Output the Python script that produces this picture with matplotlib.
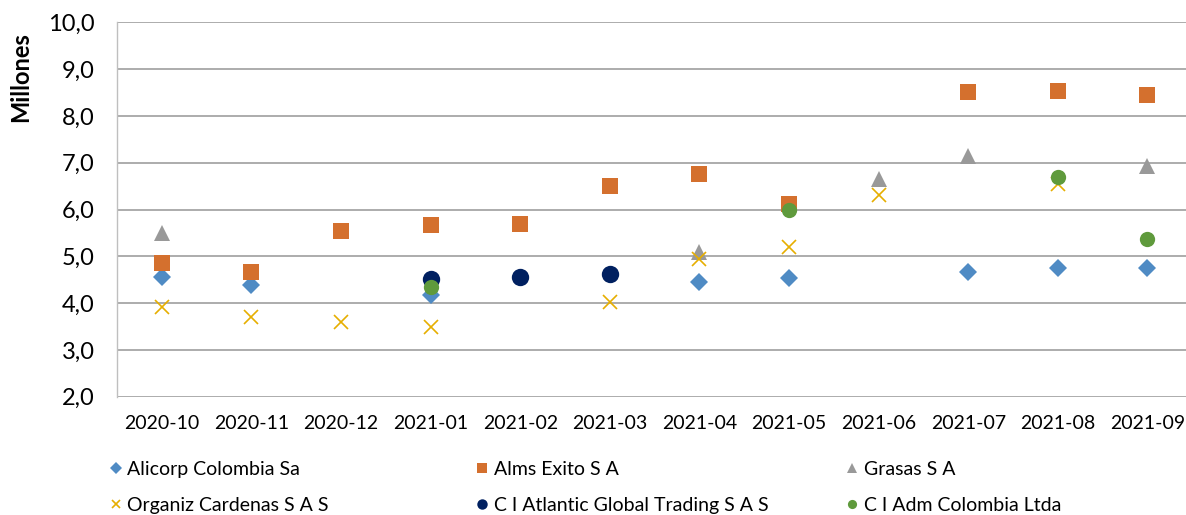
import numpy as np
import matplotlib
matplotlib.use("Agg")
import matplotlib.pyplot as plt

plt.rcParams['font.family'] = ['Lato', 'DejaVu Sans']

meses = ['2020-10', '2020-11', '2020-12', '2021-01', '2021-02', '2021-03',
         '2021-04', '2021-05', '2021-06', '2021-07', '2021-08', '2021-09']

nan = np.nan
alicorp = [4.56, 4.39, nan, 4.17, nan, nan, 4.46, 4.53, nan, 4.67, 4.74, 4.76]
exito = [4.85, 4.67, 5.55, 5.67, 5.70, 6.51, 6.75, 6.12, nan, 8.52, 8.54, 8.44]
grasas = [5.49, nan, nan, nan, nan, nan, 5.10, nan, 6.65, 7.14, nan, 6.94]
cardenas = [3.92, 3.71, 3.60, 3.50, nan, 4.02, 4.94, 5.20, 6.30, nan, 6.55, nan]
atlantic = [nan, nan, nan, 4.51, 4.56, 4.63, nan, nan, nan, nan, nan, nan]
adm = [nan, nan, nan, 4.34, nan, nan, nan, 6.00, nan, nan, 6.69, 5.38]

series = [
    ('Alicorp Colombia Sa', alicorp, 'D', '#4F8BC4', 9.5),
    ('Alms Exito S A', exito, 's', '#D4702E', 11),
    ('Grasas S A', grasas, '^', '#999999', 11.5),
    ('Organiz Cardenas S A S', cardenas, 'x', '#E6AE00', 10),
    ('C I Atlantic Global Trading S A S', atlantic, 'o', '#002060', 12.5),
    ('C I Adm Colombia Ltda', adm, 'o', '#5F9A3C', 11),
]

fig = plt.figure(figsize=(11.86, 5.15), dpi=100)
ax = fig.add_axes([117 / 1186, 1 - 396.7 / 515, 1 - 117 / 1186, (396.7 - 22.3) / 515])

x = np.arange(len(meses))
handles = []
for name, vals, mk, col, ms in series:
    h, = ax.plot(x, vals, linestyle='none', marker=mk, color=col, markersize=ms,
                 markeredgewidth=1.2 if mk == 'x' else 0, label=name, zorder=3)
    handles.append(h)

ax.set_ylim(2, 10)
ax.set_xlim(-0.5, 11.43)
ax.set_yticks(np.arange(2, 10.1, 1))
ax.set_yticklabels([f'{v:.1f}'.replace('.', ',') for v in np.arange(2, 10.1, 1)], fontsize=17)
ax.set_xticks(x)
ax.set_xticklabels(meses, fontsize=14)
ax.tick_params(axis='both', length=0)
ax.tick_params(axis='x', pad=13)
ax.tick_params(axis='y', pad=16)
ax.grid(axis='y', color='#A6A6A6', linewidth=1.3)
ax.set_axisbelow(True)
for s in ['top', 'right', 'bottom']:
    ax.spines[s].set_visible(False)
ax.spines['left'].set_color('#BFBFBF')
ax.spines['left'].set_linewidth(1.0)
ax.set_ylabel('Millones', fontsize=17, fontweight='bold', loc='top')
ax.yaxis.set_label_coords(-85 / 1069, 0.973)

# leyenda en tres columnas
cols_x = [0.086, 0.395, 0.707]
for i, cx in enumerate(cols_x):
    hs = [handles[i], handles[i + 3]]
    fig.legend(hs, [h.get_label() for h in hs], loc='upper left',
               bbox_to_anchor=(cx, 1 - 453 / 515), frameon=False,
               fontsize=14, markerscale=0.6, handlelength=0.6,
               handletextpad=0.3, labelspacing=1.0, borderaxespad=0)

fig.savefig('out.png', dpi=100)
